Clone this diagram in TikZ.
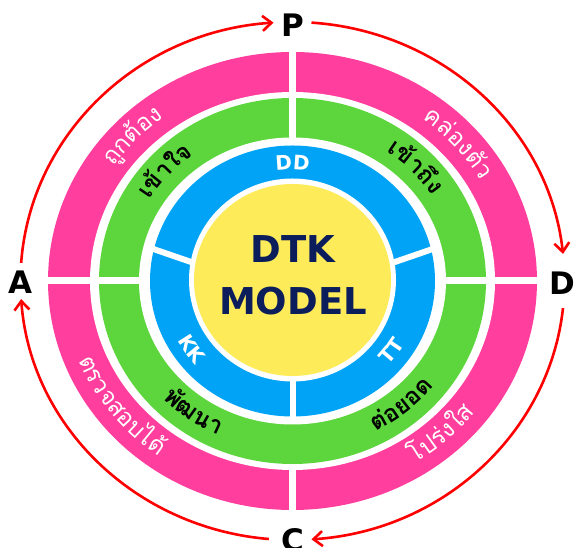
\documentclass[tikz,border=0pt]{standalone}
\usepackage{fontspec}
\setmainfont{DejaVu Sans}
\newfontfamily\thaifont[Script=Thai]{Loma}
\usetikzlibrary{arrows.meta}
\definecolor{pinkc}{HTML}{FF3E9D}
\definecolor{greenc}{HTML}{5CD63C}
\definecolor{bluec}{HTML}{00A3F5}
\definecolor{yellowc}{HTML}{FDEB5A}
\definecolor{navyc}{HTML}{0B1E5B}
\definecolor{redc}{HTML}{FF0000}
\newcommand\pinkfont{\thaifont\fontsize{24}{24}\selectfont}
\newcommand\greenfont{\thaifont\bfseries\fontsize{24}{24}\selectfont}
\newcommand\bluefont{\bfseries\fontsize{20}{20}\selectfont}
\newdimen\arcWd
\newdimen\arcAd
\newdimen\arcCw
\newbox\arcbox
% measure clusters outside the picture: #1 name, #2 font, #3 clusters
\newcommand\arcmeasure[3]{%
  \global\arcWd=0pt
  \foreach \cc [count=\ci] in {#3}{%
    \setbox\arcbox=\hbox{#2\cc}%
    \global\advance\arcWd by \wd\arcbox
    \expandafter\xdef\csname arcw@#1@\ci\endcsname{\the\wd\arcbox}%
  }%
  \expandafter\xdef\csname arcW@#1\endcsname{\the\arcWd}%
}
% #1 name, #2 rx, #3 ry (baseline), #4 middle angle, #5 1 = top, -1 = bottom, #6 node options, #7 font, #8 clusters
\newcommand\arctext[8]{%
  \global\arcWd=\csname arcW@#1\endcsname\relax
  \global\arcAd=0pt
  \foreach \cc [count=\ci] in {#8}{%
    \global\arcCw=\csname arcw@#1@\ci\endcsname\relax
    \pgfmathsetmacro\arcR{(#2+#3)/2}%
    \pgfmathsetmacro\arcT{#4-(#5)*(\arcAd+0.5*\arcCw-0.5*\arcWd)*180/(pi*\arcR)}%
    \pgfmathsetmacro\arcRot{atan2((#2)*sin(\arcT),(#3)*cos(\arcT))-(#5)*90}%
    \node[#6,rotate=\arcRot,anchor=base,inner sep=0pt] at ({(#2)*cos(\arcT)},{(#3)*sin(\arcT)}) {#7\cc};%
    \global\advance\arcAd by \arcCw
  }%
}
\AtBeginDocument{%
  \arcmeasure{w1}{\pinkfont}{ถู,ก,ต้,อ,ง}%
  \arcmeasure{w2}{\pinkfont}{ค,ล่,อ,ง,ตั,ว}%
  \arcmeasure{w3}{\pinkfont}{ต,ร,ว,จ,ส,อ,บ,ไ,ด้}%
  \arcmeasure{w4}{\pinkfont}{โ,ป,ร่,ง,ใ,ส}%
  \arcmeasure{w5}{\greenfont}{เ,ข้,า,ใ,จ}%
  \arcmeasure{w6}{\greenfont}{เ,ข้,า,ถึ,ง}%
  \arcmeasure{w7}{\greenfont}{พั,ฒ,น,า}%
  \arcmeasure{w8}{\greenfont}{ต่,อ,ย,อ,ด}%
  \arcmeasure{w9}{\bluefont}{D,D}%
  \arcmeasure{w10}{\bluefont}{K,K}%
  \arcmeasure{w11}{\bluefont}{T,T}%
}
\tikzset{
  cyclearrow/.style={draw=redc, line width=2.6pt, -{Straight Barb[length=9pt,width=15pt]}},
  corner/.style={font=\bfseries\fontsize{31}{31}\selectfont, text=black, inner sep=0pt},
  title/.style={font=\bfseries\fontsize{37}{37}\selectfont, text=navyc, inner sep=0pt},
  gapline/.style={draw=white, line width=6pt}
}
\begin{document}
\begin{tikzpicture}[x=1pt,y=1pt]
\useasboundingbox (0,0) rectangle (574,548);
\fill[white] (0,0) rectangle (574,548);
\begin{scope}[shift={(292.5,267)}]
  % pink ring
  \fill[pinkc] (0,0) ellipse [x radius=244.5, y radius=229];
  \fill[white] (-3.5,-240) rectangle (3.5,0);
  \fill[white] (0,0) ellipse [x radius=202.5, y radius=189];
  % green ring
  \fill[greenc] (0,0) ellipse [x radius=193.5, y radius=183];
  \fill[white] (-250,-3.5) rectangle (250,3.5);
  \fill[white] (-3.5,0) rectangle (3.5,240);
  \fill[white] (0,0) ellipse [x radius=153.5, y radius=143.5];
  % blue ring
  \fill[bluec] (0,0) ellipse [x radius=142.5, y radius=135.5];
  \draw[gapline] (0,0) -- (0,-136);
  \draw[gapline] (-98.5,18) -- (-145,34);
  \draw[gapline] (99.5,18) -- (146,34);
  \fill[white] (0,1) ellipse [x radius=103.5, y radius=101.5];
  % yellow core
  \fill[yellowc] (0,1) ellipse [x radius=98.5, y radius=96];
  \node[title] (dtk) at (0.5,32) {DTK};
  \node[title] (model) at (0.5,-20) {MODEL};
  % ring labels
  \arctext{w1}{217}{202.5}{136}{1}{text=white}{\pinkfont}{ถู,ก,ต้,อ,ง}
  \arctext{w2}{217}{202.5}{41.5}{1}{text=white}{\pinkfont}{ค,ล่,อ,ง,ตั,ว}
  \arctext{w3}{230}{215.5}{218}{-1}{text=white}{\pinkfont}{ต,ร,ว,จ,ส,อ,บ,ไ,ด้}
  \arctext{w4}{230}{215.5}{312.3}{-1}{text=white}{\pinkfont}{โ,ป,ร่,ง,ใ,ส}
  \arctext{w5}{167}{156.5}{137.5}{1}{text=black}{\greenfont}{เ,ข้,า,ใ,จ}
  \arctext{w6}{167}{156.5}{44.5}{1}{text=black}{\greenfont}{เ,ข้,า,ถึ,ง}
  \arctext{w7}{180}{169.5}{234.7}{-1}{text=black}{\greenfont}{พั,ฒ,น,า}
  \arctext{w8}{180}{169.5}{309.5}{-1}{text=black}{\greenfont}{ต่,อ,ย,อ,ด}
  \arctext{w9}{115.5}{111}{90}{1}{text=white}{\bluefont}{D,D}
  \arctext{w10}{130.5}{125.5}{215}{-1}{text=white}{\bluefont}{K,K}
  \arctext{w11}{130.5}{125.5}{323.7}{-1}{text=white}{\bluefont}{T,T}
  % cycle
  \node[corner] (P) at (0,256) {P};
  \node[corner] (D) at (269.5,-2) {D};
  \node[corner] (C) at (0,-259) {C};
  \node[corner] (A) at (-272.5,-1) {A};
  \draw[cyclearrow] (86:272 and 259) arc[start angle=86, end angle=6, x radius=272, y radius=259];
  \draw[cyclearrow] (-6:272 and 259) arc[start angle=-6, end angle=-86, x radius=272, y radius=259];
  \draw[cyclearrow] (265:272 and 259) arc[start angle=265, end angle=184, x radius=272, y radius=259];
  \draw[cyclearrow] (176:272 and 259) arc[start angle=176, end angle=94, x radius=272, y radius=259];
\end{scope}
\end{tikzpicture}
\end{document}
